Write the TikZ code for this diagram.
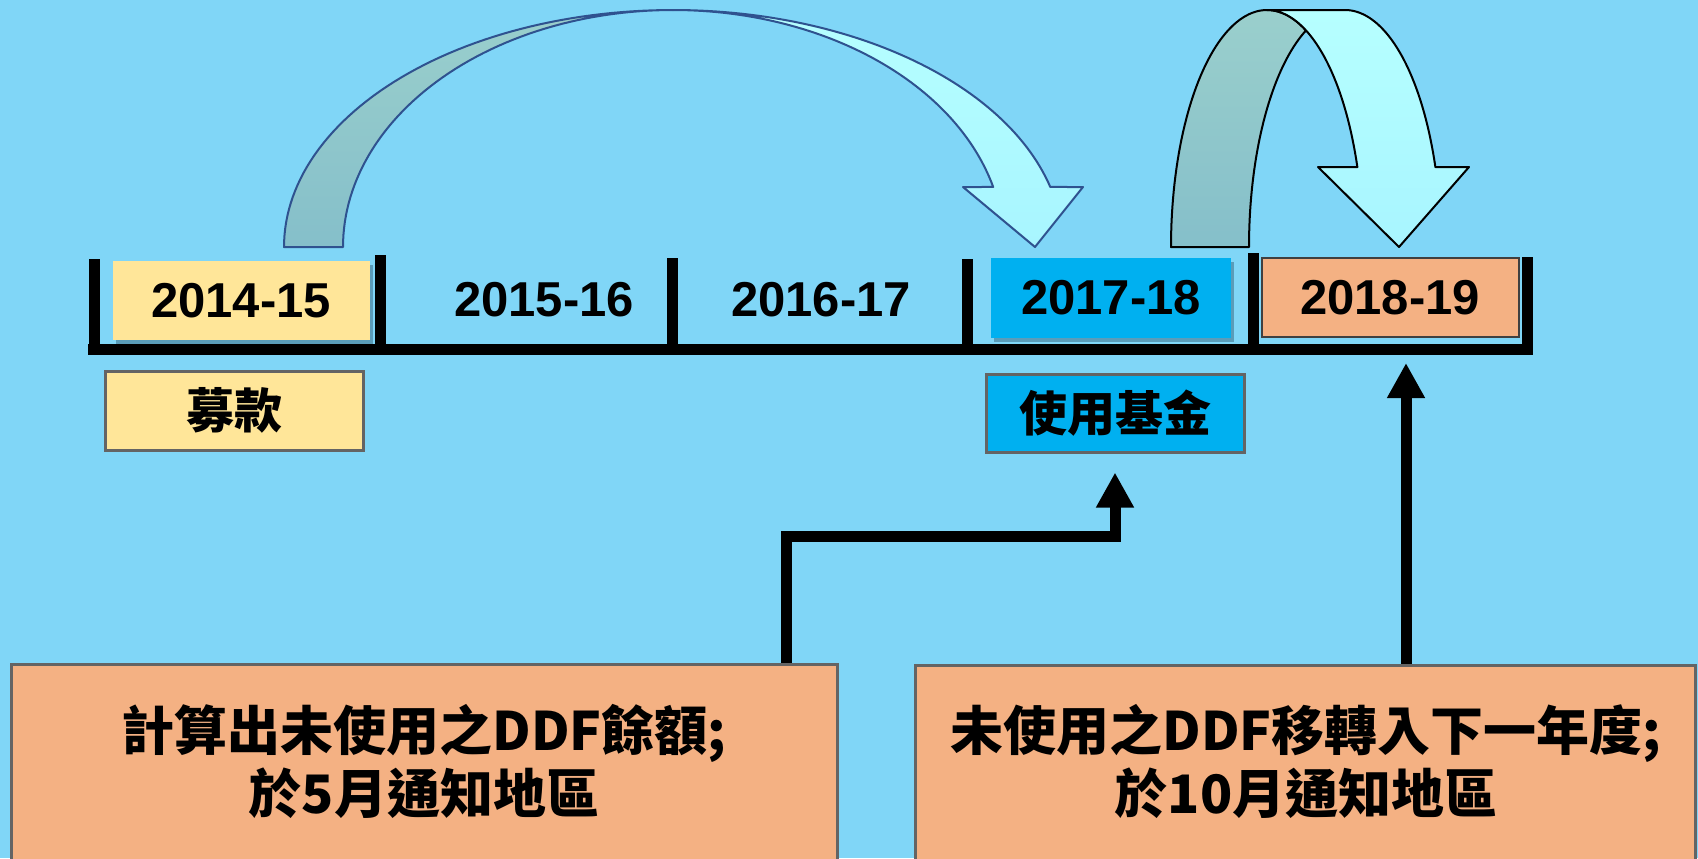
\documentclass[tikz,border=0pt]{standalone}
\usepackage{fontspec}
\setmainfont{Liberation Sans}
\newfontfamily\cjk{Noto Sans CJK TC}
\usetikzlibrary{arrows.meta,shadows}
\definecolor{bgc}{RGB}{128,214,247}
\definecolor{yel}{RGB}{255,230,153}
\definecolor{blu}{RGB}{0,176,240}
\definecolor{ora}{RGB}{244,177,131}
\definecolor{darkA}{RGB}{154,207,204}
\definecolor{darkB}{RGB}{133,191,202}
\definecolor{liteA}{RGB}{182,255,255}
\definecolor{liteB}{RGB}{168,245,255}
\definecolor{arcline}{RGB}{47,82,143}
\definecolor{boxline}{RGB}{100,100,100}
\definecolor{shadowc}{RGB}{20,50,70}
\begin{document}
\begin{tikzpicture}[x=0.5pt,y=-0.5pt,
  yeartext/.style={inner sep=0pt, font=\bfseries\fontsize{24.5}{28}\selectfont},
  yearbox/.style={rectangle, inner sep=0pt, minimum width=128.5pt, minimum height=39.5pt, font=\bfseries\fontsize{24.5}{28}\selectfont},
  softshadow/.style={drop shadow={shadow xshift=1.5pt, shadow yshift=-2pt, opacity=.35, fill=shadowc}},
  cjkbox/.style={rectangle, draw=boxline, line width=1.5pt, inner sep=0pt, font=\cjk\bfseries\fontsize{24}{28}\selectfont},
  bigbox/.style={rectangle, draw=boxline, line width=1.5pt, fill=ora, inner sep=0pt},
  bigtext/.style={inner sep=0pt, align=center, font=\cjk\bfseries\fontsize{26.5}{31.5}\selectfont},
  tl/.style={line width=5.5pt, line cap=butt},
  conn/.style={line width=5.5pt, line join=miter, -{Triangle[length=17.5pt,width=17.8pt]}},
  band/.style={line width=1pt, line join=round}]
\clip (0,0) rectangle (1698,858);
\fill[bgc] (0,0) rectangle (1698,858);

% ---- left curved arrow ----
\path[band, draw=arcline, top color=darkA, bottom color=darkB]
  plot[domain=180:90, samples=60] ({673+389*cos(\x)},{247-237*sin(\x)})
  -- plot[domain=90:180, samples=60] ({673+330*cos(\x)},{247-237*sin(\x)}) -- cycle;
\path[band, draw=arcline, top color=liteA, bottom color=liteB]
  plot[domain=90:14.67, samples=60] ({673+390*cos(\x)},{247-237*sin(\x)})
  -- (1083,187) -- (1035,247) -- (963,187)
  -- plot[domain=14.67:90, samples=60] ({673+331*cos(\x)},{247-237*sin(\x)}) -- cycle;

% ---- right curved arrow ----
\path[band, draw=black, top color=darkA, bottom color=darkB]
  plot[domain=180:66, samples=60] ({1267+96*cos(\x)},{247-237*sin(\x)})
  -- plot[domain=114:180, samples=60] ({1345+96*cos(\x)},{247-237*sin(\x)}) -- cycle;
\path[band, draw=black, top color=liteA, bottom color=liteB]
  (1267,10) -- plot[domain=90:19.7, samples=60] ({1345+96*cos(\x)},{247-237*sin(\x)})
  -- (1469,167) -- (1399,247) -- (1318,167)
  -- plot[domain=19.7:90, samples=60] ({1267+96*cos(\x)},{247-237*sin(\x)}) -- cycle;

% ---- timeline ----
\draw[tl] (88,349) -- (1533,349);
\draw[tl] (94,259) -- (94,355);
\draw[tl] (380,255) -- (380,355);
\draw[tl] (672,258) -- (672,355);
\draw[tl] (967,259) -- (967,355);
\draw[tl] (1253,253) -- (1253,355);
\draw[tl] (1527,257) -- (1527,355);

% ---- year boxes ----
\node[yearbox, fill=yel, softshadow] (n1415) at (241,300.5) {2014-15};
\node[yeartext] (n1516) at (544,299.5) {2015-16};
\node[yeartext] (n1617) at (821,299.5) {2016-17};
\node[yearbox, fill=blu, minimum width=120pt, minimum height=40pt, softshadow] (n1718) at (1111,298) {2017-18};
\node[yearbox, fill=ora, draw=black!75, line width=1pt] (n1819) at (1390,297.5) {2018-19};

% ---- label boxes ----
\node[cjkbox, fill=yel, minimum width=128.75pt, minimum height=39.5pt] (nmk) at (234.7,410.5) {募款};
\node[cjkbox, fill=blu, minimum width=129pt, minimum height=39pt] (nsy) at (1115,413) {使用基金};

% ---- bottom boxes ----
\node[bigbox, minimum width=413pt, minimum height=118pt] (boxL) at (424,782) {};
\node[bigbox, minimum width=390pt, minimum height=118pt] (boxR) at (1305,783) {};
\node[bigtext] (txtL) at (424,761.5) {計算出未使用之DDF餘額;\\於5月通知地區};
\node[bigtext] (txtR) at (1306,761.5) {未使用之DDF移轉入下一年度;\\於10月通知地區};

% ---- connectors ----
\coordinate (e1) at (786,536);
\coordinate (tipA) at ([yshift=-9.5pt]nsy.south);
\coordinate (t2) at (1406,363);
\draw[conn] (e1 |- boxL.north) -- (e1) -| (tipA);
\draw[conn] (t2 |- boxR.north) -- (t2);
\end{tikzpicture}
\end{document}
